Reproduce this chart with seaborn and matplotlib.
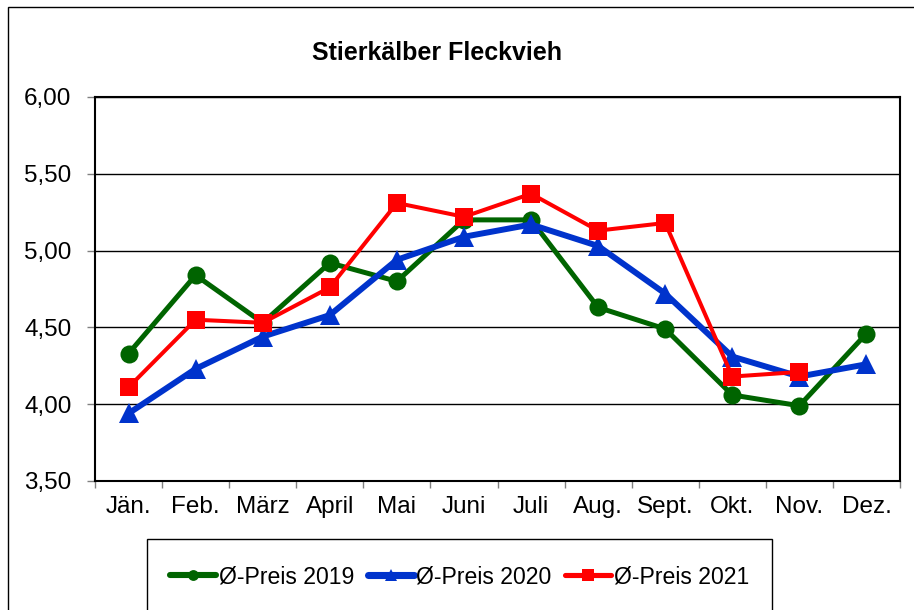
import numpy as np
import pandas as pd
import matplotlib
matplotlib.use("Agg")
import matplotlib.pyplot as plt
from matplotlib.patches import Rectangle
from matplotlib.lines import Line2D
from matplotlib.ticker import FixedLocator, FuncFormatter
import seaborn as sns

# Daten
monate = ["Jän.", "Feb.", "März", "April", "Mai", "Juni",
          "Juli", "Aug.", "Sept.", "Okt.", "Nov.", "Dez."]
preis_2019 = [4.33, 4.84, 4.53, 4.92, 4.80, 5.20, 5.20, 4.63, 4.49, 4.06, 3.99, 4.46]
preis_2020 = [3.94, 4.23, 4.44, 4.58, 4.94, 5.09, 5.17, 5.03, 4.72, 4.31, 4.18, 4.26]
preis_2021 = [4.11, 4.55, 4.53, 4.76, 5.31, 5.22, 5.37, 5.13, 5.18, 4.18, 4.21, np.nan]
y_ticks = [3.5, 4.0, 4.5, 5.0, 5.5, 6.0]

df = pd.DataFrame({
    "pos": np.arange(len(monate)),
    "2019": preis_2019,
    "2020": preis_2020,
    "2021": preis_2021,
})

sns.set_theme(style="white")
plt.rcParams["font.family"] = ["Liberation Sans", "DejaVu Sans"]
plt.rcParams["text.color"] = "black"

fig = plt.figure(figsize=(9.14, 6.10), dpi=100)
ax = fig.add_axes([95 / 914, 129 / 610, 805 / 914, 384 / 610])

serien = [
    ("2019", "#006400", "o", 13, 3.6),
    ("2020", "#0033CC", "^", 15, 4.3),
    ("2021", "#FF0000", "s", 13.5, 2.9),
]
handles = []
for i, (jahr, farbe, marker, ms, lw) in enumerate(serien):
    sns.lineplot(data=df, x="pos", y=jahr, ax=ax, color=farbe, marker=marker,
                 markersize=ms, markeredgewidth=0, linewidth=lw, zorder=3 + i)
    handles.append(Line2D([], [], color=farbe, marker=marker, markersize=ms * 0.6,
                          markeredgewidth=0, linewidth=lw + 0.8,
                          label=f"Ø-Preis {jahr}"))

ax.set_xlim(-0.5, 11.5)
ax.set_ylim(3.5, 6.0)
ax.set_xlabel("")
ax.set_ylabel("")

# x-Achse: Striche zwischen den Kategorien, Beschriftung in der Mitte
ax.xaxis.set_major_locator(FixedLocator(np.arange(-0.5, 12, 1)))
ax.xaxis.set_minor_locator(FixedLocator(np.arange(12)))
ax.set_xticklabels([])
ax.set_xticklabels(monate, minor=True)
ax.tick_params(axis="x", which="major", bottom=True, direction="out",
               length=5, width=1, color="#808080")
ax.tick_params(axis="x", which="minor", bottom=True, length=0, pad=11,
               labelsize=17.5, labelcolor="black")

ax.set_yticks(y_ticks)
ax.yaxis.set_major_formatter(FuncFormatter(lambda v, p: f"{v:.2f}".replace(".", ",")))
ax.tick_params(axis="y", left=True, direction="out", length=6, width=1,
               color="#808080", pad=11, labelsize=17.5, labelcolor="black")

ax.yaxis.grid(True, color="black", linewidth=1)
ax.set_axisbelow(True)
for s in ax.spines.values():
    s.set_color("black")
    s.set_linewidth(1.5)

fig.text(437 / 914, 1 - 53 / 610, "Stierkälber Fleckvieh", ha="center", va="center",
         fontsize=18, fontweight="bold", color="black")

# Legendenrahmen (unten abgeschnitten)
fig.patches.append(Rectangle((147 / 914, -0.1), 625 / 914, 0.1 + 71 / 610,
                             transform=fig.transFigure, fill=False,
                             edgecolor="black", linewidth=1))
leg = fig.legend(handles=handles, loc="center", bbox_to_anchor=(459.5 / 914, 33 / 610),
                 ncol=3, frameon=False, fontsize=16.6, handlelength=2.0,
                 handletextpad=0.1, columnspacing=0.6)
for t in leg.get_texts():
    t.set_color("black")

# äußerer Rahmen
fig.patches.append(Rectangle((8 / 914, -0.1), 1.1, 0.1 + 603 / 610,
                             transform=fig.transFigure, fill=False,
                             edgecolor="black", linewidth=1))

plt.savefig("out.png", dpi=100)
plt.close()
